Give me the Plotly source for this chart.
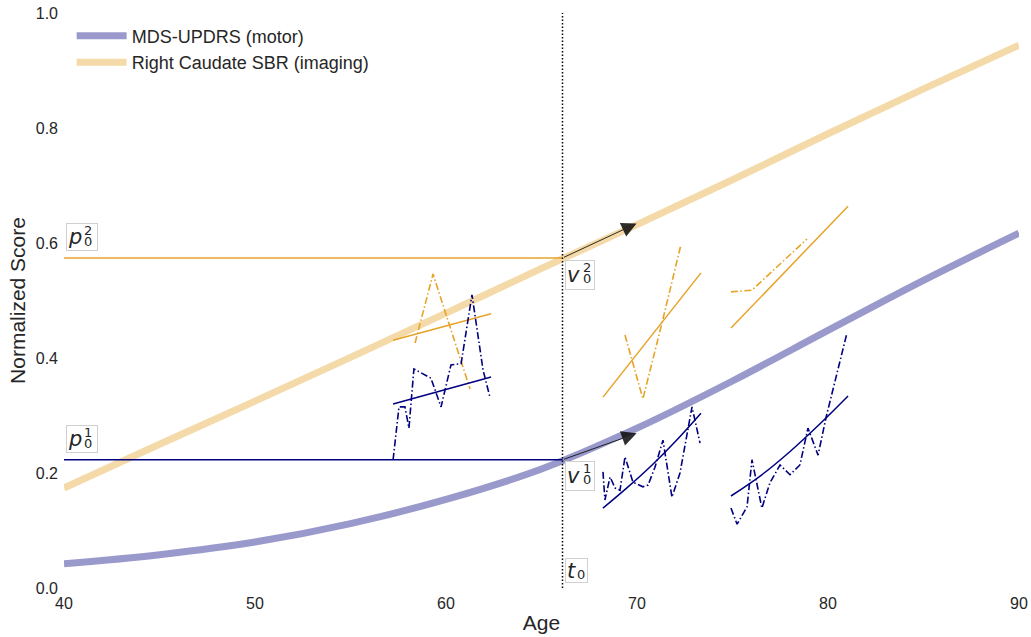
import plotly.graph_objects as go

# ---------------- data ----------------
curve_ages = [40, 45, 50, 55, 60, 65, 70, 75, 80, 85, 90]
motor_curve = [0.042, 0.058, 0.080, 0.112, 0.154, 0.207, 0.278, 0.360, 0.448, 0.535, 0.617]
imaging_curve = [0.174, 0.250, 0.325, 0.401, 0.478, 0.556, 0.632, 0.710, 0.790, 0.868, 0.944]

t0 = 66.1
p0_motor = 0.223
p0_imaging = 0.574
v0_motor_tip = (69.98, 0.269)
v0_imaging_tip = (69.98, 0.634)

# patient 1
p1_motor_age = [57.23, 57.54, 57.85, 58.06, 58.32, 59.21, 59.74, 60.26, 60.79, 61.36, 61.94, 62.30]
p1_motor_obs = [0.223, 0.315, 0.315, 0.278, 0.381, 0.365, 0.315, 0.388, 0.390, 0.510, 0.379, 0.332]
p1_motor_fit_age = [57.23, 62.36]
p1_motor_fit = [0.320, 0.367]
p1_img_age = [58.38, 59.32, 61.26]
p1_img_obs = [0.426, 0.546, 0.346]
p1_img_fit_age = [57.23, 62.36]
p1_img_fit = [0.431, 0.477]

# patient 2
p2_motor_age = [68.22, 68.32, 68.59, 68.85, 69.11, 69.37, 69.79, 70.31, 70.58, 70.94, 71.36, 71.83, 72.25, 72.88, 73.30]
p2_motor_obs = [0.202, 0.153, 0.193, 0.174, 0.170, 0.228, 0.184, 0.176, 0.179, 0.210, 0.257, 0.158, 0.200, 0.315, 0.252]
p2_motor_fit_age = [68.22, 69.50, 70.79, 72.07, 73.35]
p2_motor_fit = [0.139, 0.175, 0.214, 0.257, 0.304]
p2_img_age = [69.37, 70.31, 71.31, 72.30]
p2_img_obs = [0.440, 0.329, 0.461, 0.597]
p2_img_fit_age = [68.22, 73.35]
p2_img_fit = [0.332, 0.548]

# patient 3
p3_motor_age = [74.92, 75.24, 75.76, 76.02, 76.54, 76.96, 77.49, 78.01, 78.53, 78.95, 79.48, 79.90, 80.99]
p3_motor_obs = [0.139, 0.111, 0.141, 0.223, 0.139, 0.183, 0.214, 0.197, 0.214, 0.278, 0.231, 0.297, 0.443]
p3_motor_fit_age = [74.92, 76.50, 78.00, 79.50, 81.05]
p3_motor_fit = [0.160, 0.196, 0.237, 0.283, 0.334]
p3_img_age = [74.92, 76.02, 78.90]
p3_img_obs = [0.515, 0.518, 0.607]
p3_img_fit_age = [74.92, 81.05]
p3_img_fit = [0.452, 0.664]

x_ticks = [40, 50, 60, 70, 80, 90]
y_ticks = [0.0, 0.2, 0.4, 0.6, 0.8, 1.0]

# ---------------- styles ----------------
NAVY = "rgb(0,0,128)"
ORANGE = "rgb(231,163,40)"
NAVY_LIGHT = "rgba(0,0,128,0.4)"
ORANGE_LIGHT = "rgba(231,163,40,0.4)"
DASHDOT = "7px,2.5px,1.5px,2.5px"
TXT = "#262626"
FONT = "Liberation Sans, Arial, sans-serif"
MATH = "DejaVu Sans"

fig = go.Figure()

fig.add_trace(go.Scatter(x=curve_ages, y=motor_curve, mode="lines", line=dict(color=NAVY_LIGHT, width=7, shape="spline"),
                         name="MDS-UPDRS (motor)"))
fig.add_trace(go.Scatter(x=curve_ages, y=imaging_curve, mode="lines", line=dict(color=ORANGE_LIGHT, width=7, shape="spline"),
                         name="Right Caudate SBR (imaging)"))

# horizontal p0 lines
fig.add_trace(go.Scatter(x=[40, t0], y=[p0_imaging, p0_imaging], mode="lines", line=dict(color=ORANGE, width=1.5), showlegend=False))
fig.add_trace(go.Scatter(x=[40, t0], y=[p0_motor, p0_motor], mode="lines", line=dict(color=NAVY, width=1.5), showlegend=False))

def obs(xs, ys, color):
    fig.add_trace(go.Scatter(x=xs, y=ys, mode="lines", line=dict(color=color, width=1.6, dash=DASHDOT), showlegend=False))

def fit(xs, ys, color):
    fig.add_trace(go.Scatter(x=xs, y=ys, mode="lines", line=dict(color=color, width=1.5, shape="spline"), showlegend=False))

obs(p1_img_age, p1_img_obs, ORANGE); fit(p1_img_fit_age, p1_img_fit, ORANGE)
obs(p1_motor_age, p1_motor_obs, NAVY); fit(p1_motor_fit_age, p1_motor_fit, NAVY)
obs(p2_img_age, p2_img_obs, ORANGE); fit(p2_img_fit_age, p2_img_fit, ORANGE)
obs(p2_motor_age, p2_motor_obs, NAVY); fit(p2_motor_fit_age, p2_motor_fit, NAVY)
obs(p3_img_age, p3_img_obs, ORANGE); fit(p3_img_fit_age, p3_img_fit, ORANGE)
obs(p3_motor_age, p3_motor_obs, NAVY); fit(p3_motor_fit_age, p3_motor_fit, NAVY)

# vertical t0 line
fig.add_trace(go.Scatter(x=[t0, t0], y=[0, 1], mode="lines", line=dict(color="black", width=1.5, dash="1.5px,2px"), showlegend=False))

annotations = []
# arrows
for (tx, ty), base in [(v0_motor_tip, p0_motor), (v0_imaging_tip, p0_imaging)]:
    annotations.append(dict(x=tx, y=ty, ax=t0, ay=base, xref="x", yref="y", axref="x", ayref="y",
                            showarrow=True, arrowhead=2, arrowsize=3, arrowwidth=1,
                            arrowcolor="rgba(10,10,10,0.85)", text=""))

def label(x, y, base, sup, sub, xshift, w, h, sup_dx):
    annotations.append(dict(x=x, y=y, xref="x", yref="y", xanchor="left", yanchor="middle", xshift=xshift,
                            text="<i>%s</i>" % base, showarrow=False, font=dict(family=MATH, size=21, color=TXT),
                            bgcolor="white", bordercolor="#d0d0d0", borderwidth=1, borderpad=1,
                            width=w, height=h, align="left", valign="middle"))
    if sup:
        annotations.append(dict(x=x, y=y, xref="x", yref="y", xanchor="left", yanchor="middle",
                                xshift=xshift + sup_dx, yshift=7, text=sup, showarrow=False, borderpad=0,
                                font=dict(family=MATH, size=13, color=TXT)))
    if sub:
        annotations.append(dict(x=x, y=y, xref="x", yref="y", xanchor="left", yanchor="middle",
                                xshift=xshift + sup_dx, yshift=-4, text=sub, showarrow=False, borderpad=0,
                                font=dict(family=MATH, size=13, color=TXT)))

label(40, 0.610, "p", "2", "0", 2, 28, 24, 17)
label(40, 0.259, "p", "1", "0", 2, 28, 24, 17)
label(t0, 0.545, "v", "2", "0", 2, 26, 26, 17)
label(t0, 0.195, "v", "1", "0", 2, 26, 26, 17)
label(t0, 0.030, "t", None, "0", 2, 19, 21, 11)

fig.update_layout(
    width=1031, height=637,
    margin=dict(l=64, r=12, t=13, b=49),
    plot_bgcolor="white", paper_bgcolor="white",
    font=dict(family=FONT, color=TXT),
    annotations=annotations,
    legend=dict(x=0.008, y=0.992, xanchor="left", yanchor="top", bgcolor="rgba(255,255,255,0)",
                font=dict(family=FONT, size=18, color=TXT), tracegroupgap=0, itemwidth=50),
    xaxis=dict(range=[40, 90], tickvals=x_ticks, ticktext=[str(v) for v in x_ticks], showgrid=False, zeroline=False,
               showline=False, ticks="", tickfont=dict(size=16, color=TXT), ticklabelstandoff=4, automargin=False,
               title=dict(text="Age", font=dict(size=21, color=TXT), standoff=4)),
    yaxis=dict(range=[0, 1], tickvals=y_ticks, ticktext=["%.1f" % v for v in y_ticks], showgrid=False, zeroline=False,
               showline=False, ticks="", tickfont=dict(size=16, color=TXT), ticklabelstandoff=5, automargin=False,
               title=dict(text="Normalized Score", font=dict(size=21, color=TXT), standoff=4)),
)

fig.write_html("out.html", config={"displayModeBar": False},
               post_script="document.body.style.margin='0';document.body.style.overflow='hidden';")
